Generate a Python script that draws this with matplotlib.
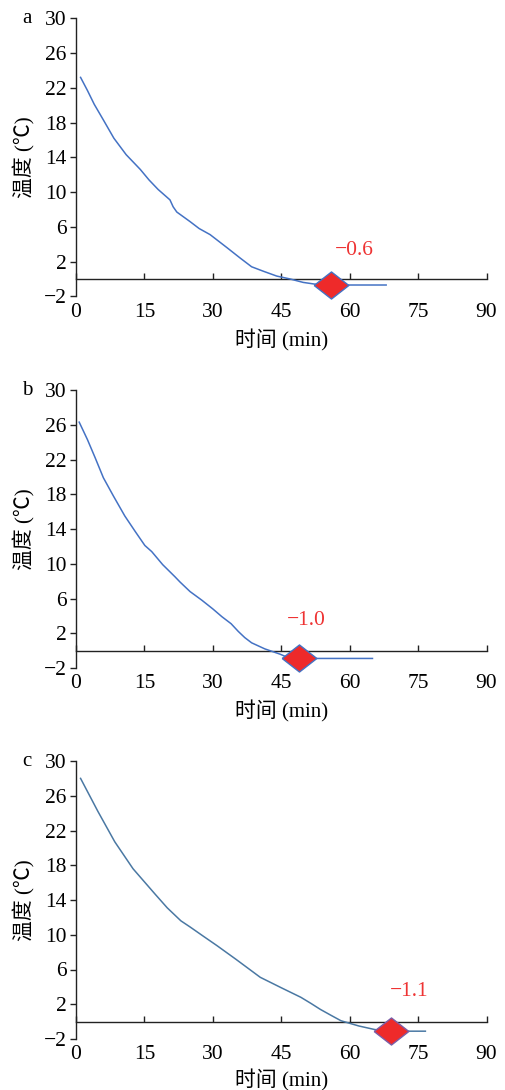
import matplotlib
matplotlib.use('Agg')
import matplotlib.pyplot as plt

plt.rcParams['font.family'] = ['Liberation Serif', 'Noto Sans CJK SC']
plt.rcParams['axes.unicode_minus'] = True

# 数据
time_a = [1, 2.5, 4, 6, 8.3, 11, 14.1, 16, 18, 20.6, 21.3, 22.1, 25, 27, 29.4, 33.1, 36, 38.5, 41, 44, 46.9, 49.8, 52.4, 55, 68]
temp_a = [23.2, 21.7, 20.1, 18.3, 16.2, 14.3, 12.6, 11.4, 10.3, 9.1, 8.3, 7.7, 6.6, 5.8, 5.1, 3.6, 2.4, 1.4, 0.9, 0.33, 0.0, -0.4, -0.6, -0.7, -0.7]

time_b = [0.7, 2.5, 4.2, 6, 8.2, 10.7, 13, 15.1, 16.6, 19, 21.7, 22.8, 25, 27.6, 30, 32, 34, 35.6, 37, 38.5, 41.4, 44.7, 46.5, 49, 65]
temp_b = [26.3, 24.3, 22.2, 19.9, 17.8, 15.5, 13.7, 12.1, 11.4, 9.9, 8.5, 7.9, 6.8, 5.8, 4.8, 3.9, 3.1, 2.2, 1.5, 0.9, 0.2, -0.4, -0.8, -0.9, -0.9]

time_c = [1, 4.8, 8.5, 12.5, 17.3, 20, 23, 25, 28, 30.9, 35, 40.4, 45, 49.3, 51.5, 53.6, 56, 58.1, 62, 65.4, 68, 76.6]
temp_c = [28.0, 24.2, 20.7, 17.6, 14.7, 13.1, 11.6, 10.9, 9.8, 8.75, 7.2, 5.1, 3.9, 2.8, 2.1, 1.4, 0.7, 0.1, -0.5, -0.9, -1.1, -1.1]

freeze_t = [56, 49, 69]
freeze_T = [-0.7, -0.85, -1.1]
freeze_labels = ['\u22120.6', '\u22121.0', '\u22121.1']
label_pos = [(61, 3.3), (50.5, 3.5), (73, 3.5)]

panel_names = ['a', 'b', 'c']
x_ticks = [0, 15, 30, 45, 60, 75, 90]
y_ticks = [-2, 2, 6, 10, 14, 18, 22, 26, 30]

series = [(time_a, temp_a), (time_b, temp_b), (time_c, temp_c)]
line_colors = ['#4472C4', '#4472C4', '#4a78a3']
edge_colors = ['#4472C4', '#4472C4', '#7b5ea7']

# 坐标轴位置 (像素 -> 比例)
W, H = 505, 1090
tops = [18.3, 390, 761]
ax_h = 278
left_px, right_px = 76, 486.5
xlabel_y = [-0.157, -0.157, -0.148]

diamond = [(-1, 0), (0, 0.78), (1, 0), (0, -0.78), (-1, 0)]

fig = plt.figure(figsize=(W / 100, H / 100), dpi=100)

for i in range(3):
    bottom = 1 - (tops[i] + ax_h) / H
    ax = fig.add_axes([left_px / W, bottom, (right_px - left_px) / W, ax_h / H])
    t, T = series[i]
    ax.plot(t, T, color=line_colors[i], lw=1.1, zorder=3)
    ax.plot([freeze_t[i]], [freeze_T[i]], marker=diamond, markersize=25,
            markerfacecolor='#ee2a2a', markeredgecolor=edge_colors[i],
            markeredgewidth=1.0, linestyle='none', zorder=4, clip_on=False)
    lx, ly = label_pos[i]
    ax.text(lx, ly, freeze_labels[i], color='#ee3333', fontsize=15.5,
            ha='center', va='center')

    ax.set_xlim(0, 90)
    ax.set_ylim(-2, 30)
    ax.set_xticks(x_ticks)
    ax.set_yticks(y_ticks)
    ax.set_yticklabels(['\u22122'] + [str(v) for v in y_ticks[1:]])

    ax.spines['top'].set_visible(False)
    ax.spines['right'].set_visible(False)
    ax.spines['bottom'].set_position(('data', 0))
    for s in ['left', 'bottom']:
        ax.spines[s].set_linewidth(1.0)
        ax.spines[s].set_color('#222222')

    ax.tick_params(axis='x', direction='in', length=4, width=1.0, pad=17,
                   labelsize=15.5, color='#222222')
    ax.tick_params(axis='y', direction='out', length=4, width=1.0, pad=3,
                   labelsize=15.5, color='#222222')

    ax.set_xlabel('时间 (min)', fontsize=15)
    ax.xaxis.set_label_coords(0.5, xlabel_y[i])
    ax.xaxis.label.set_va('center')
    ax.set_ylabel('温度 (\u2103)', fontsize=15)
    ax.yaxis.set_label_coords(-0.125, 0.5)
    ax.yaxis.label.set_va('center')

    fig.text(27 / W, 1 - tops[i] / H, panel_names[i], fontsize=15,
             ha='center', va='center')

fig.savefig('out.png', dpi=100)
